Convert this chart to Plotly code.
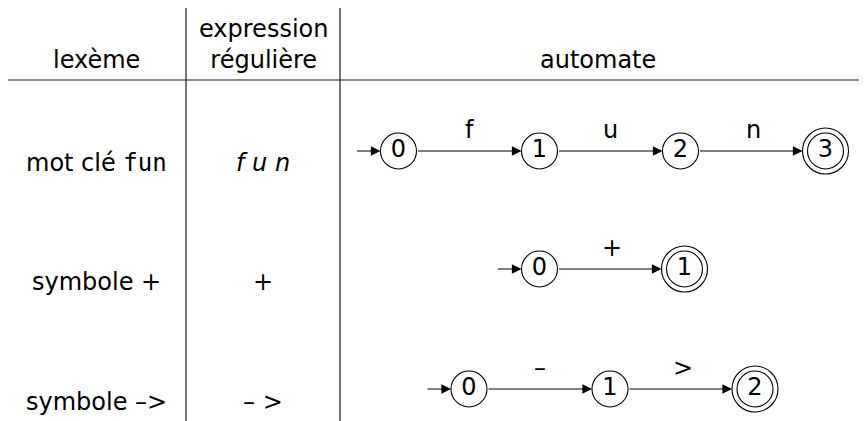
import plotly.graph_objects as go

# table content
headers = ["lexème", "expression<br>régulière", "automate"]
lexemes = [
    "mot clé <span style='font-family:DejaVu Sans Mono'>fun</span>",
    "symbole +",
    "symbole –>",
]
regexes = ["<i>f u n</i>", "+", "– >"]

# automata: states (last one is accepting) and transition labels
states_fun = ["0", "1", "2", "3"]
labels_fun = ["f", "u", "n"]
states_plus = ["0", "1"]
labels_plus = ["+"]
states_arrow = ["0", "1", "2"]
labels_arrow = ["–", ">"]
automata = [(states_fun, labels_fun), (states_plus, labels_plus), (states_arrow, labels_arrow)]

# page coordinates (the browser puts an 8px margin round the plot div)
W, H, PAD = 867, 421, 8
FONT = "DejaVu Sans"
FS = 24
col_x = [96, 263, 598]
col_lines = [186, 340]
header_line_y = 80
row_text_y = [163, 282, 402]
row_auto_y = [151, 269, 389]
auto_center = 610
spacing = 141
R = 18          # state radius
R_OUT = 23      # accepting outer radius
LINE = "#1a1a1a"

fig = go.Figure()
shapes = []
annotations = []

# table rules
for x in col_lines:
    shapes.append(dict(type="line", x0=x, x1=x, y0=7, y1=H, line=dict(color=LINE, width=1.2)))
shapes.append(dict(type="line", x0=8, x1=860, y0=header_line_y, y1=header_line_y,
                   line=dict(color=LINE, width=1.2)))

# headers
annotations.append(dict(x=col_x[0], y=60, text=headers[0], showarrow=False))
annotations.append(dict(x=col_x[1], y=44, text=headers[1], showarrow=False))
annotations.append(dict(x=col_x[2], y=60, text=headers[2], showarrow=False))

for i in range(len(lexemes)):
    annotations.append(dict(x=col_x[0], y=row_text_y[i], text=lexemes[i], showarrow=False))
    annotations.append(dict(x=col_x[1], y=row_text_y[i], text=regexes[i], showarrow=False))

arrow_style = dict(xref="x", yref="y", axref="x", ayref="y", showarrow=True, arrowhead=2,
                   arrowsize=1.6, arrowwidth=1.2, arrowcolor="black", text="")

for (states, labels), y in zip(automata, row_auto_y):
    n = len(states)
    xs = [auto_center + (k - (n - 1) / 2) * spacing for k in range(n)]
    xs[-1] += 4
    # initial arrow
    annotations.append(dict(x=xs[0] - R, y=y, ax=xs[0] - R - 25, ay=y, **arrow_style))
    # transitions
    for k, lab in enumerate(labels):
        r_next = R_OUT if k + 1 == n - 1 else R
        annotations.append(dict(x=xs[k + 1] - r_next, y=y, ax=xs[k] + R, ay=y, **arrow_style))
        annotations.append(dict(x=(xs[k] + xs[k + 1]) / 2, y=y - 21, text=lab, showarrow=False))
    # accepting outer ring
    fig.add_trace(go.Scatter(x=[xs[-1]], y=[y], mode="markers", hoverinfo="skip",
                             marker=dict(size=2 * R_OUT, color="white",
                                         line=dict(color="black", width=1.1))))
    # states
    fig.add_trace(go.Scatter(x=xs, y=[y] * n, mode="markers+text", text=states,
                             textposition="middle center", hoverinfo="skip",
                             textfont=dict(family=FONT, size=FS, color="black"),
                             marker=dict(size=2 * R, color="white",
                                         line=dict(color="black", width=1.1))))

fig.update_layout(
    width=W - PAD, height=H - PAD, margin=dict(l=0, r=0, t=0, b=0),
    plot_bgcolor="white", paper_bgcolor="white", showlegend=False,
    font=dict(family=FONT, size=FS, color="black"),
    xaxis=dict(range=[PAD, W], visible=False, fixedrange=True),
    yaxis=dict(range=[H, PAD], visible=False, fixedrange=True),
    shapes=shapes, annotations=annotations,
)
fig.write_html("out.html")
